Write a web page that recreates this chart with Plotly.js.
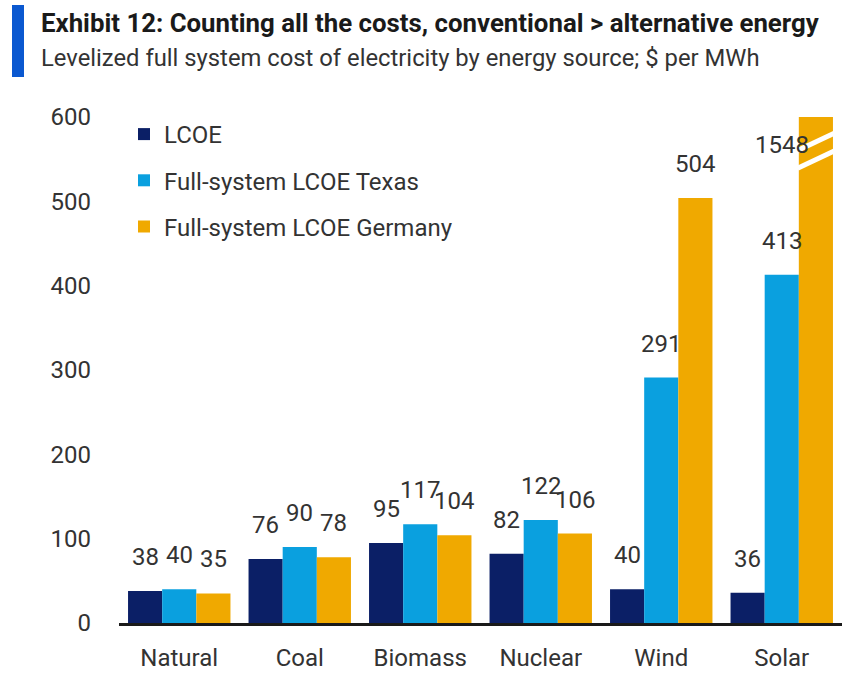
<!DOCTYPE html>
<html>
<head>
<meta charset="utf-8">
<script src="https://cdn.plot.ly/plotly-3.0.1.min.js"></script>
<style>
html,body{margin:0;padding:0;background:#fff;}
#chart{width:848px;height:678px;}
</style>
</head>
<body>
<div id="chart"></div>
<script>
// ---- data ----
const categories = ["Natural", "Coal", "Biomass", "Nuclear", "Wind", "Solar"];
const lcoe = [38, 76, 95, 82, 40, 36];
const texas = [40, 90, 117, 122, 291, 413];
const germany = [35, 78, 104, 106, 504, 1548];
const seriesNames = ["LCOE", "Full-system LCOE Texas", "Full-system LCOE Germany"];
const yTicks = [0, 100, 200, 300, 400, 500, 600];

// ---- style ----
const colors = ["#0b1f66", "#0aa0df", "#f0a900"];
const FONT = "Roboto, Liberation Sans, sans-serif";
const yMax = 600;
const bargap = 0.15;
const series = [lcoe, texas, germany];
const barW = (1 - bargap) / series.length;

const traces = series.map((vals, j) => ({
  type: "bar",
  x: categories,
  y: vals,
  name: seriesNames[j],
  legendgroup: "g" + j,
  marker: {color: colors[j], line: {width: 0}},
  hoverinfo: "x+y+name"
}));

const annotations = [];
series.forEach((vals, j) => {
  vals.forEach((v, i) => {
    const off = (j - (series.length - 1) / 2) * barW;
    if (v > yMax) {
      annotations.push({
        x: i + off - barW, y: yMax - 33, xref: "x", yref: "y",
        text: String(v), showarrow: false, yanchor: "middle",
        font: {family: FONT, size: 24, color: "#333"}
      });
    } else {
      annotations.push({
        x: i + off, y: v, xref: "x", yref: "y",
        text: String(v), showarrow: false, yanchor: "bottom", yshift: 18,
        font: {family: FONT, size: 24, color: "#333"}
      });
    }
  });
});

// Plot area geometry (px) for paper-referenced header
const L = 119, R = 6, T = 117, B = 55, W = 848, H = 678;
const pw = W - L - R, ph = H - T - B;
const px2x = p => (p - L) / pw;
const px2y = p => (H - B - p) / ph;

annotations.push({
  xref: "paper", yref: "paper", x: px2x(39), y: px2y(23), xanchor: "left", yanchor: "middle",
  text: "<b>Exhibit 12: Counting all the costs, conventional &gt; alternative energy</b>",
  showarrow: false, font: {family: FONT, size: 25.8, color: "#1a1a1a"}
});
annotations.push({
  xref: "paper", yref: "paper", x: px2x(39), y: px2y(58), xanchor: "left", yanchor: "middle",
  text: "Levelized full system cost of electricity by energy source; $ per MWh",
  showarrow: false, font: {family: FONT, size: 23.8, color: "#333"}
});

const shapes = [
  {type: "rect", xref: "paper", yref: "paper", x0: px2x(12), x1: px2x(24), y0: px2y(77), y1: px2y(5),
   fillcolor: "#0a58d0", line: {width: 0}}
];
// axis-break marks on clipped bars
series.forEach((vals, j) => {
  vals.forEach((v, i) => {
    if (v > yMax) {
      const c = i + (j - (series.length - 1) / 2) * barW;
      const x0 = c - barW / 2, x1 = c + barW / 2;
      [[561, 580], [540, 559]].forEach(([a, b]) => {
        shapes.push({type: "line", xref: "x", yref: "y", x0: x0 - 0.01, x1: x1 + 0.01, y0: a - 0.7, y1: b + 0.7,
          line: {color: "#ffffff", width: 5}});
      });
    }
  });
});

const layout = {
  width: W, height: H,
  margin: {l: L, r: R, t: T, b: B, pad: 0},
  paper_bgcolor: "#fff", plot_bgcolor: "#fff",
  barmode: "group", bargap: bargap, bargroupgap: 0,
  font: {family: FONT, size: 24, color: "#333"},
  showlegend: true,
  legend: {
    x: px2x(124), y: px2y(112), xanchor: "left", yanchor: "top",
    bgcolor: "rgba(0,0,0,0)", traceorder: "grouped", tracegroupgap: 12,
    font: {family: FONT, size: 24, color: "#333"}, itemwidth: 30
  },
  xaxis: {
    type: "category", range: [-0.5, categories.length - 0.5],
    showline: true, linecolor: "#1a1a1a", linewidth: 2.5,
    showgrid: false, zeroline: false, ticks: "",
    tickfont: {family: FONT, size: 24, color: "#333"}, ticklabelstandoff: 12
  },
  yaxis: {
    range: [0, yMax], tickvals: yTicks, ticktext: yTicks.map(String),
    showline: false, showgrid: false, zeroline: false, ticks: "",
    tickfont: {family: FONT, size: 24, color: "#333"}, ticklabelstandoff: 27
  },
  annotations: annotations,
  shapes: shapes
};

Plotly.newPlot("chart", traces, layout, {displayModeBar: false, staticPlot: true});
</script>
</body>
</html>
